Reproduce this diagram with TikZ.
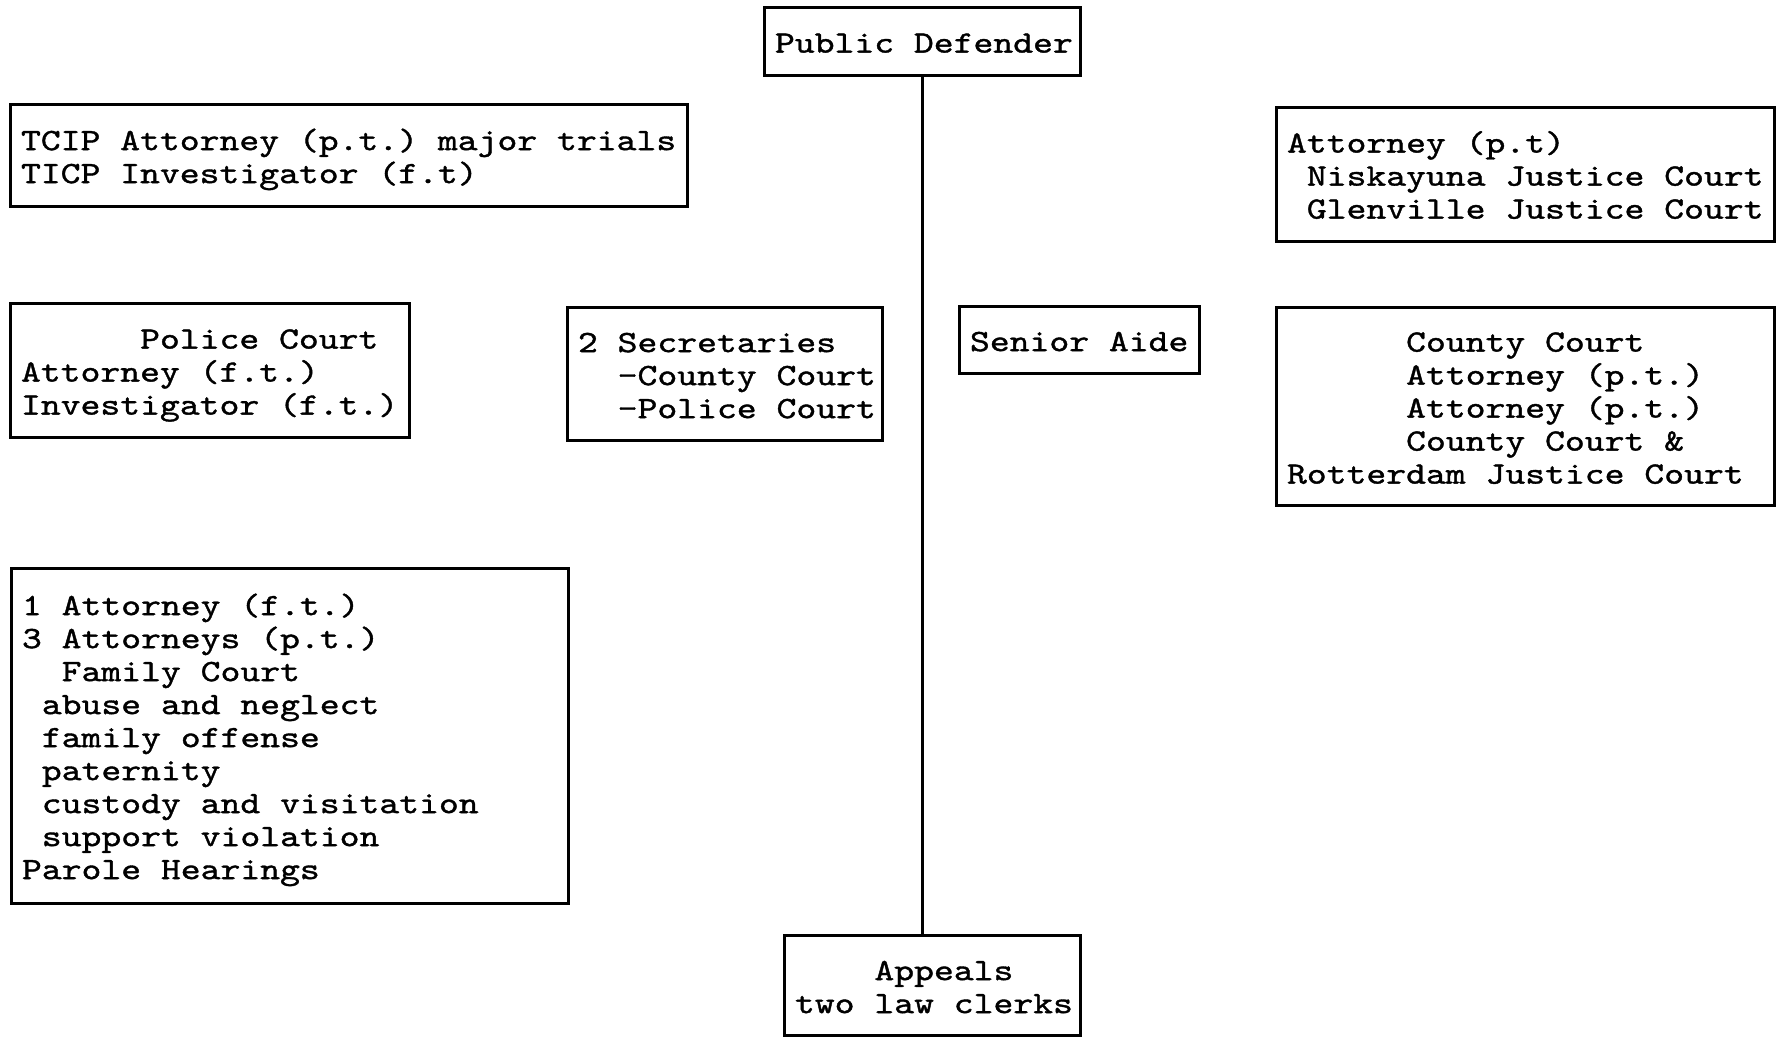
\documentclass[tikz,border=0pt]{standalone}
\usepackage{fontspec}
% serif typewriter face, widened to a 0.6em-per-cell pitch
\newfontfamily\twfont{lmmono10-regular.otf}[FakeStretch=1.22,FakeBold=1.2]
\newcommand\twset{\twfont\fontsize{15.5pt}{16.5pt}\selectfont}
% one character cell, and indentation by a number of cells
\newcommand\cellwd{\fontcharwd\font`M}
\newcommand\ind[1]{\hspace*{\dimexpr\cellwd*#1\relax}}
% left-aligned block of lines on a fixed pitch; never re-wraps, set slightly low
\newcommand\rows[1]{\makebox[\linewidth][l]{%
  \spaceskip=\cellwd\relax\xspaceskip=\cellwd\relax
  \raisebox{-2.5pt}[\height][\depth]{\begin{tabular}{@{}l@{}}#1\end{tabular}}}}
\begin{document}
\begin{tikzpicture}[x=0.5pt,y=-0.5pt,
  orgbox/.style={draw, line width=1.5pt, inner xsep=5.5pt, inner ysep=0pt,
    font=\twset},
  link/.style={line width=1.5pt}]
\useasboundingbox (0,0) rectangle (1778,1039);

\node[orgbox, text width=147pt, minimum height=34pt] (pd) at (922,41)
  {\rows{Public Defender}};

\node[orgbox, text width=327.5pt, minimum height=51pt] (tcip) at (348.5,155)
  {\rows{TCIP Attorney (p.t.) major trials\\
         TICP Investigator (f.t)}};

\node[orgbox, text width=238pt, minimum height=67pt] (towns) at (1525,174)
  {\rows{Attorney (p.t)\\
         \ind{1}Niskayuna Justice Court\\
         \ind{1}Glenville Justice Court}};

\node[orgbox, text width=188.5pt, minimum height=67pt] (police) at (209.5,370)
  {\rows{\ind{6}Police Court\\
         Attorney (f.t.)\\
         Investigator (f.t.)}};

\node[orgbox, text width=146.5pt, minimum height=66.5pt] (secr) at (724.5,373.5)
  {\rows{2 Secretaries\\
         \ind{2}-County Court\\
         \ind{2}-Police Court}};

\node[orgbox, text width=109pt, minimum height=33.5pt] (aide) at (1079,339.5)
  {\rows{Senior Aide}};

\node[orgbox, text width=238pt, minimum height=99pt] (county) at (1525,406)
  {\rows{\ind{6}County Court\\
         \ind{6}Attorney (p.t.)\\
         \ind{6}Attorney (p.t.)\\
         \ind{6}County Court \&\\
         Rotterdam Justice Court}};

\node[orgbox, text width=267.5pt, minimum height=167.5pt] (family) at (289.5,735.5)
  {\rows{1 Attorney (f.t.)\\
         3 Attorneys (p.t.)\\
         \ind{2}Family Court\\
         \ind{1}abuse and neglect\\
         \ind{1}family offense\\
         \ind{1}paternity\\
         \ind{1}custody and visitation\\
         \ind{1}support violation\\
         Parole Hearings}};

\node[orgbox, text width=137pt, minimum height=50pt] (appeals) at (932,985)
  {\rows{\ind{4}Appeals\\
         two law clerks}};

\draw[link] (pd.south) -- (pd.south |- appeals.north);
\end{tikzpicture}
\end{document}
